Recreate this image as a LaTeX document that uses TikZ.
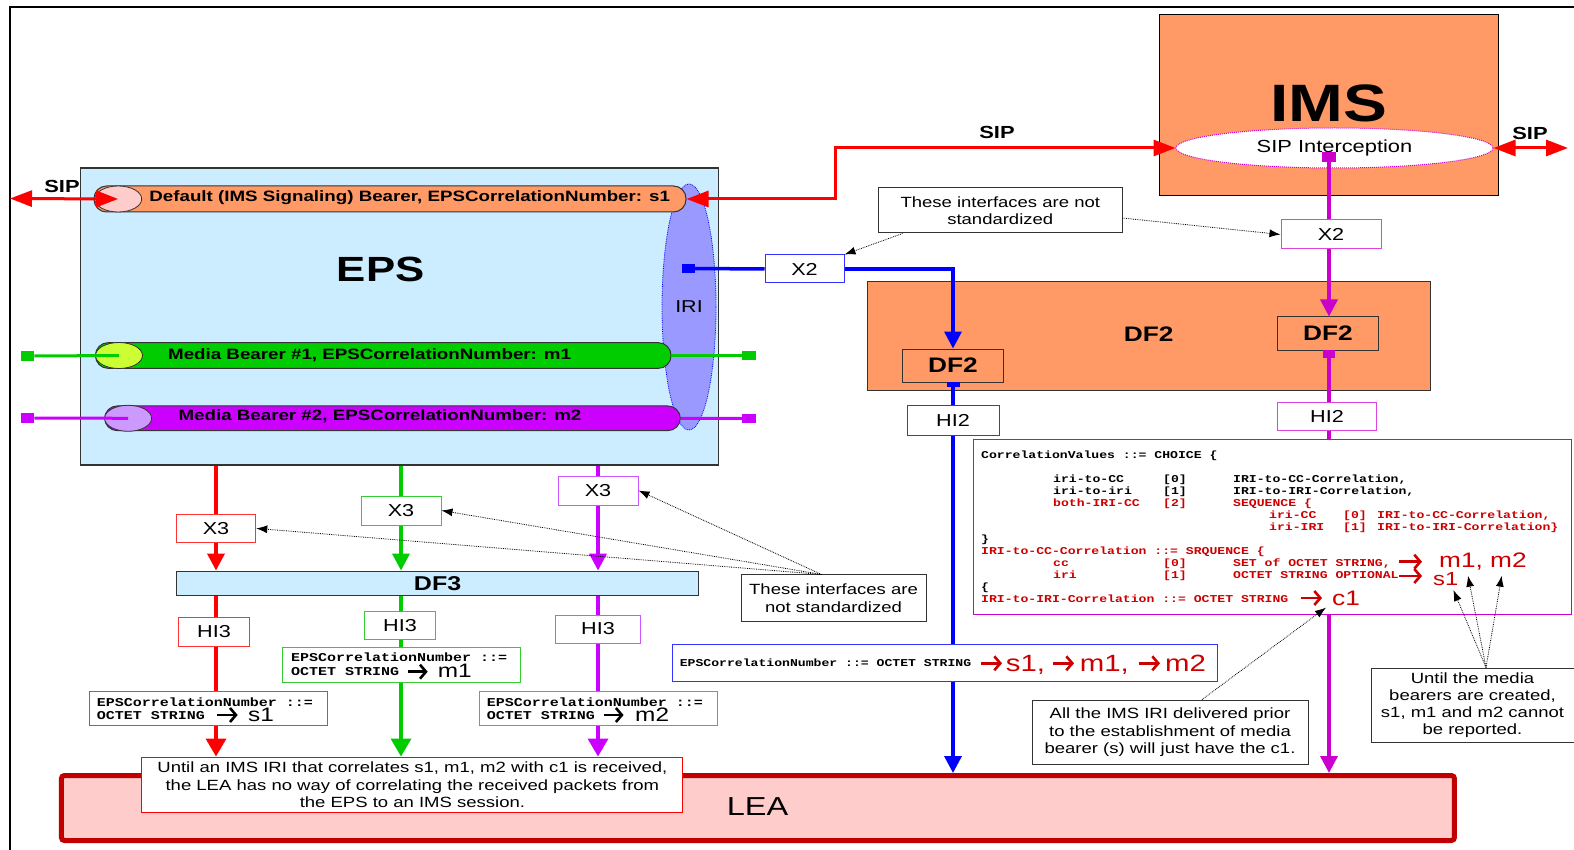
\documentclass[tikz,border=0pt]{standalone}
\usepackage{fontspec}
\setmainfont{Liberation Sans}[FakeStretch=1.25]
\newfontfamily\monofnt{Liberation Mono}[FakeStretch=1.25]
\usetikzlibrary{arrows.meta,shapes.geometric}
\definecolor{orng}{HTML}{FF9966}
\definecolor{epsblue}{HTML}{CCECFF}
\definecolor{iriblue}{HTML}{9999FF}
\definecolor{leafill}{HTML}{FFCCCC}
\definecolor{leared}{HTML}{C00000}
\definecolor{codered}{HTML}{CC0000}
\definecolor{sipred}{HTML}{FF0000}
\definecolor{grn}{HTML}{00CC00}
\definecolor{prp}{HTML}{CC00FF}
\definecolor{mag}{HTML}{CC00CC}
\definecolor{blu}{HTML}{0000FF}
\definecolor{limef}{HTML}{CCFF33}
\definecolor{lprp}{HTML}{CC99FF}
\definecolor{pinkE}{HTML}{FFCCCC}
\definecolor{dgray}{HTML}{333333}
\definecolor{bred}{HTML}{FF3333}
\definecolor{bgrn}{HTML}{33CC33}
\definecolor{bprp}{HTML}{CC55FF}
\definecolor{bmag}{HTML}{DD44DD}
\definecolor{bblu}{HTML}{3333FF}
\newcommand\fsz[2]{\fontsize{#1}{#2}\selectfont}
\tikzset{
  ibox/.style={draw=#1, fill=white, line width=1pt, inner sep=0pt, font=\fsz{17.3}{20}},
  dfbox/.style={draw=dgray, fill=orng, line width=1pt, inner sep=0pt, font=\bfseries\fsz{21}{24}},
  notebox/.style={draw=dgray, fill=white, line width=1pt, inner sep=0pt, align=center, font=\fsz{14.8}{17.2}},
  conn/.style={line width=3.5pt},
  arrowend/.style={-{Triangle[length=17pt,width=17pt]}},
  bigarrowend/.style={-{Triangle[length=18pt,width=20pt]}},
  sipline/.style={sipred, line width=3pt, {Triangle[length=22pt,width=16pt]}-{Triangle[length=22pt,width=16pt]}},
  callout/.style={densely dotted, line width=0.8pt, -{Latex[length=11pt,width=8pt]}},
  sqr/.style={fill=#1, inner sep=0pt},
  capsule/.style={draw=dgray, line width=1pt, rounded corners=12.5pt, inner sep=0pt},
  capend/.style={ellipse, draw=dgray, line width=0.8pt, fill=#1, minimum width=47pt, minimum height=26pt, inner sep=0pt},
  codetxt/.style={anchor=base west, inner sep=0pt, font=\monofnt\bfseries\fsz{10.5}{12}},
  smallcode/.style={anchor=base west, inner sep=0pt, font=\monofnt\bfseries\fsz{12}{14}},
  bigred/.style={anchor=base west, inner sep=0pt, text=codered, font=\fsz{21}{24}},
  bigblk/.style={anchor=base west, inner sep=0pt, font=\fsz{19.5}{22}},
  rarrow/.style={line width=2.6pt, -{Straight Barb[length=6pt,width=14pt]}},
  siplbl/.style={inner sep=0pt, font=\bfseries\fsz{17.5}{20}}
}
\begin{document}
\begin{tikzpicture}[x=1pt,y=-1pt]
\useasboundingbox (0,0) rectangle (1574,850);
% frame
\draw[line width=1.5pt, black] (10,850) -- (10,7) -- (1574,7);

% IMS
\node[draw=black, fill=orng, line width=1pt, minimum width=339pt, minimum height=181pt, inner sep=0pt] (ims) at (1328.5,105.5) {};
\node[inner sep=0pt, font=\bfseries\fsz{52.6}{56}] (imst) at (1329,103) {IMS};
\node[ellipse, draw=mag, densely dotted, fill=white, line width=1pt, minimum width=317pt, minimum height=40pt, inner sep=0pt, font=\fsz{17.5}{20}] (sipi) at (1334.5,148) {SIP Interception};
\node[sqr=mag, minimum width=14pt, minimum height=10pt] (msq) at (1329,157) {};

% DF2
\node[dfbox, minimum width=563pt, minimum height=108pt] (df2) at (1148.5,336) {};
\node[inner sep=0pt, font=\bfseries\fsz{21}{24}] (df2t) at (1148.6,334) {DF2};
\node[dfbox, minimum width=101pt, minimum height=33pt] (dfr) at (1328,333.5) {DF2};
\node[dfbox, minimum width=101pt, minimum height=33pt] (dfl) at (953,365.5) {DF2};
\node[sqr=mag, minimum width=12pt, minimum height=8pt] (dfrsq) at (1329,354) {};
\node[sqr=blu, minimum width=13pt, minimum height=5pt] (dflsq) at (953,384.5) {};

% X2 / HI2
\node[ibox=bblu, minimum width=79pt, minimum height=28pt] (x2b) at (804.5,269) {X2};
\node[ibox=bmag, minimum width=100pt, minimum height=29pt] (x2m) at (1331,234.5) {X2};
\node[ibox=bblu, minimum width=92pt, minimum height=30pt] (hi2b) at (953,420) {HI2};
\node[ibox=bmag, minimum width=99pt, minimum height=28pt] (hi2m) at (1327,416) {HI2};

% note1
\node[notebox, minimum width=243.5pt, minimum height=45pt] (note1) at (1000.25,210.5) {These interfaces are not\\standardized};

% EPS
\node[draw=dgray, fill=epsblue, line width=1.2pt, minimum width=638pt, minimum height=297pt, inner sep=0pt] (eps) at (399.4,316.5) {};
\node[inner sep=0pt, font=\bfseries\fsz{35}{40}] (epst) at (380.7,269) {EPS};
\node[ellipse, draw=blu, densely dotted, fill=iriblue, line width=0.8pt, minimum width=54pt, minimum height=246pt, inner sep=0pt, font=\fsz{17.2}{20}] (iri) at (689,307) {IRI};

% bearers
\node[capsule, fill=orng, minimum width=592pt, minimum height=26pt] (dflt) at (390,199) {};
\node[capend=pinkE] (dfltE) at (118.2,199) {};
\node[inner sep=0pt, font=\bfseries\fsz{15}{18}] (dfltT) at (409.7,197.5) {Default (IMS Signaling) Bearer, EPSCorrelationNumber: s1};

\node[capsule, fill=grn, minimum width=575.5pt, minimum height=25.6pt] (mb1) at (383.25,355.5) {};
\node[capend=limef] (mb1E) at (119,355.5) {};
\node[inner sep=0pt, font=\bfseries\fsz{15}{18}] (mb1T) at (369.6,355) {Media Bearer \#1, EPSCorrelationNumber: m1};

\node[capsule, fill=prp, minimum width=575.7pt, minimum height=24.7pt] (mb2) at (392.5,418.3) {};
\node[capend=lprp] (mb2E) at (128.1,418.3) {};
\node[inner sep=0pt, font=\bfseries\fsz{15}{18}] (mb2T) at (380,416.5) {Media Bearer \#2, EPSCorrelationNumber: m2};

\node[sqr=grn, minimum width=13.5pt, minimum height=9.5pt] (gsqL) at (27.5,356) {};
\node[sqr=grn, minimum width=13.5pt, minimum height=9.5pt] (gsqR) at (749,355.5) {};
\node[sqr=prp, minimum width=13.5pt, minimum height=9.5pt] (psqL) at (27.5,418) {};
\node[sqr=prp, minimum width=13.5pt, minimum height=9.5pt] (psqR) at (749,418.5) {};
\node[sqr=blu, minimum width=13.3pt, minimum height=9pt] (bsq) at (688.3,268.5) {};

% X3 / DF3 / HI3
\node[ibox=bred, minimum width=79.5pt, minimum height=28.7pt] (x3r) at (216,528.4) {X3};
\node[ibox=bgrn, minimum width=80pt, minimum height=29pt] (x3g) at (401,510.5) {X3};
\node[ibox=bprp, minimum width=80pt, minimum height=29pt] (x3p) at (598,490.5) {X3};
\node[draw=dgray, fill=epsblue, line width=1pt, minimum width=522.4pt, minimum height=24.7pt, inner sep=0pt, font=\bfseries\fsz{20}{22}] (df3) at (437.6,583.4) {DF3};
\node[ibox=bred, minimum width=71.6pt, minimum height=29pt] (hi3r) at (214,631.5) {HI3};
\node[ibox=bgrn, minimum width=70.5pt, minimum height=27.5pt] (hi3g) at (400,625.3) {HI3};
\node[ibox=bprp, minimum width=84.5pt, minimum height=28pt] (hi3p) at (598,629) {HI3};

% small EPSCorrelationNumber boxes
\node[ibox=bred, minimum width=238.7pt, minimum height=34.3pt] (er) at (208.4,708.8) {};
\node[ibox=bgrn, minimum width=238.2pt, minimum height=35pt] (eg) at (401.6,664.5) {};
\node[ibox=bprp, minimum width=238pt, minimum height=34.3pt] (ep) at (598,708.8) {};
\node[smallcode] (er1) at (96.6,706) {EPSCorrelationNumber ::=};
\node[smallcode] (er2) at (96.6,719.5) {OCTET STRING};
\node[bigblk] (er3) at (248,721.7) {s1};
\node[smallcode] (eg1) at (290.8,661.5) {EPSCorrelationNumber ::=};
\node[smallcode] (eg2) at (290.8,675) {OCTET STRING};
\node[bigblk] (eg3) at (437.7,677.3) {m1};
\node[smallcode] (ep1) at (486.6,706) {EPSCorrelationNumber ::=};
\node[smallcode] (ep2) at (486.6,719.5) {OCTET STRING};
\node[bigblk] (ep3) at (635,721.7) {m2};
\draw[rarrow] (217,715) -- (237.7,715);
\draw[rarrow] (407.8,671.7) -- (427.7,671.7);
\draw[rarrow] (603.6,715) -- (623.6,715);

% LEA and annotation
\node[draw=leared, fill=leafill, line width=5pt, rounded corners=3pt, minimum width=1393pt, minimum height=65pt, inner sep=0pt] (lea) at (757.9,808) {};
\node[inner sep=0pt, font=\fsz{26}{30}] (leat) at (757.6,806.7) {LEA};
\node[notebox, draw=sipred, minimum width=541pt, minimum height=55.7pt] (annot) at (412.4,784.9) {Until an IMS IRI that correlates s1, m1, m2 with c1 is received,\\the LEA has no way of correlating the received packets from\\the EPS to an IMS session.};

% notes
\node[notebox, minimum width=185pt, minimum height=46.7pt] (note2) at (833.5,598.3) {These interfaces are\\not standardized};
\node[notebox, minimum width=276pt, minimum height=64.3pt] (note3) at (1170,732.2) {All the IMS IRI delivered prior\\to the establishment of media\\bearer (s) will just have the c1.};
\node[notebox, minimum width=203pt, minimum height=74pt] (note4) at (1472.5,705) {Until the media\\bearers are created,\\s1, m1 and m2 cannot\\be reported.};

% code box
\node[draw=mag, fill=white, line width=1pt, minimum width=598pt, minimum height=175pt, inner sep=0pt] (code) at (1272.5,526.5) {};
\node[codetxt] (cl1) at (981,458) {CorrelationValues ::= CHOICE \{};
\node[codetxt] (cl2) at (1053,482) {\makebox[110pt][l]{iri-to-CC}\makebox[70pt][l]{[0]}IRI-to-CC-Correlation,};
\node[codetxt] (cl3) at (1053,494) {\makebox[110pt][l]{iri-to-iri}\makebox[70pt][l]{[1]}IRI-to-IRI-Correlation,};
\node[codetxt, text=codered] (cl4) at (1053,506) {\makebox[110pt][l]{both-IRI-CC}\makebox[70pt][l]{[2]}SEQUENCE \{};
\node[codetxt, text=codered] (cl5) at (1269,518) {\makebox[74pt][l]{iri-CC}\makebox[34pt][l]{[0]}IRI-to-CC-Correlation,};
\node[codetxt, text=codered] (cl6) at (1269,530) {\makebox[74pt][l]{iri-IRI}\makebox[34pt][l]{[1]}IRI-to-IRI-Correlation\}};
\node[codetxt] (cl7) at (981,542) {\}};
\node[codetxt, text=codered] (cl8) at (981,554) {IRI-to-CC-Correlation ::= SRQUENCE \{};
\node[codetxt, text=codered] (cl9) at (1053,566) {\makebox[110pt][l]{cc}\makebox[70pt][l]{[0]}SET of OCTET STRING,};
\node[codetxt, text=codered] (cl10) at (1053,578) {\makebox[110pt][l]{iri}\makebox[70pt][l]{[1]}OCTET STRING OPTIONAL};
\node[codetxt] (cl11) at (981,590) {\{};
\node[codetxt, text=codered] (cl12) at (981,602) {IRI-to-IRI-Correlation ::= OCTET STRING};
\draw[rarrow, codered] (1399,561.7) -- (1422,561.7);
\draw[rarrow, codered] (1399,576) -- (1422,576);
\draw[rarrow, codered] (1301,598) -- (1322,598);
\node[bigred] (m12) at (1439,567) {m1, m2};
\node[bigred, font=\fsz{19}{22}] (s1c) at (1433,585) {s1};
\node[bigred] (c1c) at (1332,605.7) {c1};

% blue EPS box
\node[ibox=bblu, minimum width=544.5pt, minimum height=36.7pt] (epsb) at (944.75,663.3) {};
\node[codetxt] (bt) at (679.6,666.5) {EPSCorrelationNumber ::= OCTET STRING};
\draw[rarrow, codered] (981,663.3) -- (1002,663.3);
\draw[rarrow, codered] (1053,663.3) -- (1074,663.3);
\draw[rarrow, codered] (1138.6,663.3) -- (1160,663.3);
\node[bigred, font=\fsz{23.5}{26}] (bs1) at (1005.7,671) {s1,};
\node[bigred, font=\fsz{23.5}{26}] (bm1) at (1079.6,671) {m1,};
\node[bigred, font=\fsz{23.5}{26}] (bm2) at (1165,671) {m2};

% SIP labels
\node[siplbl] (sipl1) at (62,186) {SIP};
\node[siplbl] (sipl2) at (997,132) {SIP};
\node[siplbl] (sipl3) at (1530,133) {SIP};

% ---------- connectors ----------
\coordinate (sipbend) at (835,148);
\coordinate (sipL) at (10,198.5);
\coordinate (sipR) at (1568,148);
\draw[sipline] (sipi.west) -- (sipbend) |- (dflt.east);
\draw[sipline] (sipL) -- (dfltE.center);
\draw[sipline] (sipi.east) -- (sipR);

\draw[conn, grn, line width=3pt] (gsqL.east) -- (mb1E.center);
\draw[conn, grn, line width=3pt] (mb1.east) -- (gsqR.west);
\draw[conn, prp, line width=3pt] (psqL.east) -- (mb2E.center);
\draw[conn, prp, line width=3pt] (mb2.east) -- (psqR.west);

% blue IRI path
\draw[conn, blu] (bsq.east) -- (x2b.west);
\draw[conn, blu, arrowend] (x2b.east) -- (x2b.east -| dfl.north) -- (dfl.north);
\draw[conn, blu] (dflsq.south) -- (hi2b.north);
\draw[conn, blu] (hi2b.south) -- (hi2b.south |- epsb.north);
\draw[conn, blu, arrowend] (hi2b.south |- epsb.south) -- (hi2b.south |- lea.north);

% magenta IMS path
\draw[conn, mag] (msq.south) -- (msq |- x2m.north);
\draw[conn, mag, arrowend] (msq |- x2m.south) -- (msq |- dfr.north);
\draw[conn, mag] (dfrsq.south) -- (msq |- hi2m.north);
\draw[conn, mag] (msq |- hi2m.south) -- (msq |- code.north);
\draw[conn, mag, arrowend] (msq |- code.south) -- (msq |- lea.north);

% red X3 path
\draw[conn, sipred] (x3r |- eps.south) -- (x3r.north);
\draw[conn, sipred, arrowend] (x3r.south) -- (x3r |- df3.north);
\draw[conn, sipred] (x3r |- df3.south) -- (x3r |- hi3r.north);
\draw[conn, sipred] (x3r |- hi3r.south) -- (x3r |- er.north);
\draw[conn, sipred, bigarrowend] (x3r |- er.south) -- (x3r |- annot.north);
% green X3 path
\draw[conn, grn] (x3g |- eps.south) -- (x3g.north);
\draw[conn, grn, arrowend] (x3g.south) -- (x3g |- df3.north);
\draw[conn, grn] (x3g |- df3.south) -- (x3g |- hi3g.north);
\draw[conn, grn] (x3g |- hi3g.south) -- (x3g |- eg.north);
\draw[conn, grn, bigarrowend] (x3g |- eg.south) -- (x3g |- annot.north);
% purple X3 path
\draw[conn, prp] (x3p |- eps.south) -- (x3p.north);
\draw[conn, prp, arrowend] (x3p.south) -- (x3p |- df3.north);
\draw[conn, prp] (x3p |- df3.south) -- (x3p |- hi3p.north);
\draw[conn, prp] (x3p |- hi3p.south) -- (x3p |- ep.north);
\draw[conn, prp, bigarrowend] (x3p |- ep.south) -- (x3p |- annot.north);

% callouts
\draw[callout] ([xshift=24.5pt]note1.south west) -- (x2b.north east);
\draw[callout] ([yshift=-7.5pt]note1.east) -- (x2m.west);
\draw[callout] ([xshift=-12pt]note2.north) -- (x3r.east);
\draw[callout] ([xshift=-12pt]note2.north) -- (x3g.east);
\draw[callout] ([xshift=-12pt]note2.north) -- (x3p.east);
\draw[callout] ([xshift=32pt]note3.north) -- ([xshift=-6pt,yshift=-1.5pt]c1c.south west);
\draw[callout] ([xshift=13.5pt]note4.north) -- ([xshift=20.4pt,yshift=-5pt]s1c.base west);
\draw[callout] ([xshift=13.5pt]note4.north) -- ([xshift=29pt,yshift=-8.7pt]m12.base west);
\draw[callout] ([xshift=13.5pt]note4.north) -- ([xshift=62.7pt,yshift=-8.7pt]m12.base west);
\end{tikzpicture}
\end{document}
